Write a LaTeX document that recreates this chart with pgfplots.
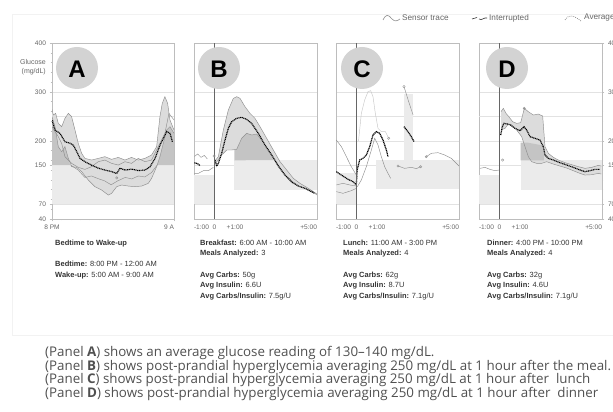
\documentclass[border=0pt]{standalone}
\usepackage{fontspec}
\setmainfont{Liberation Sans}
\newfontfamily\capfont{Open Sans}
\usepackage{pgfplots}
\pgfplotsset{compat=1.18}

\definecolor{boxlight}{HTML}{EBEBEB}
\definecolor{band}{HTML}{DCDCDC}
\definecolor{darkfill}{HTML}{C4C4C4}
\definecolor{trace}{HTML}{8E8E8E}
\definecolor{frame}{HTML}{BDBDBD}
\definecolor{gridc}{HTML}{E2E2E2}
\definecolor{lbl}{HTML}{666666}
\definecolor{txt}{HTML}{333333}
\definecolor{circ}{HTML}{D3D3D3}
\definecolor{zero}{HTML}{666666}
\definecolor{captxt}{HTML}{505050}

\newcommand{\pf}{\fontsize{7.5}{8}\selectfont}

\pgfplotsset{
  panel/.style={
    scale only axis, height=176pt, anchor=south west,
    ymin=40, ymax=400,
    axis line style={draw=frame, line width=0.5pt},
    ymajorgrids, grid style={draw=gridc, line width=0.4pt},
    tick style={draw=frame, line width=0.4pt},
    major tick length=2.5pt, minor tick length=1.5pt,
    tick align=outside,
    ticklabel style={font=\fontsize{6.6}{7}\selectfont, text=lbl},
    xtick pos=bottom,
  },
  meal/.style={panel, width=123pt, xmin=-1, xmax=5,
    xtick={-1,0,1,5},
    xticklabels={{\makebox[0pt][l]{-1:00}},0,{+1:00},{\makebox[0pt][r]{+5:00}}},
    xtick style={draw=none},
  },
  nolab/.style={ytick={40,70,150,200,250,300,400}, yticklabels={,,,,,,},
    ytick style={draw=none}, ytick pos=left},
  tr/.style={draw=trace, line width=0.45pt, mark=none},
  avg/.style={draw=gray!60, line width=1.15pt, mark=none,
    postaction={draw=black, line width=1.15pt, dash pattern=on 0.9pt off 0.8pt}},
  box/.style={fill=boxlight, draw=none, mark=none},
  dark/.style={fill=darkfill, draw=none, mark=none},
  bandfill/.style={fill=band, draw=none, mark=none},
  zline/.style={draw=zero, line width=0.6pt, mark=none},
  omk/.style={only marks, mark=o, mark size=1.2pt, mark options={draw=trace, fill=white, line width=0.4pt}},
}

\begin{document}
\begin{tikzpicture}
\useasboundingbox (0pt,0pt) rectangle (613pt,412pt);
\draw[draw=gray!10, line width=0.5pt] (12pt,77pt) rectangle (640pt,398pt);

% ---------- Panel A: bedtime to wake-up ----------
\begin{axis}[panel, at={(52pt,193pt)}, width=122pt, xmin=0, xmax=13,
  xtick={0,13}, xticklabels={8 PM,{\makebox[0pt][r]{9 A}}},
  minor xtick={1,2,...,12},
  ytick={40,70,150,200,300,400}, yticklabels={40,70,150,200,300,400},
  minor ytick={60,80,...,380}, ytick pos=left,
  extra y ticks={250}, extra y tick labels={}, extra y tick style={major tick length=0pt},
]
\addplot[box] coordinates {(0,70) (13,70) (13,150) (0,150)};
% envelope between highest and lowest night traces
\addplot[bandfill] coordinates {
 (0,264.3) (0.14,252.7) (0.39,256.1) (0.67,235.6) (1.03,228.8) (1.38,245.9)
 (1.74,256.1) (2.09,249.3) (2.45,222) (2.80,194.7) (3.16,174.3) (3.51,164)
 (4.22,160.6) (4.93,164) (5.64,167.5) (6.35,162) (7.06,166) (7.77,160.6)
 (8.48,166) (9.19,160.6) (9.90,164) (10.61,170.9) (11.15,187.9) (11.5,249.3)
 (11.75,276.6) (12.03,290.2) (12.32,276.6) (12.57,242.5) (13,222)
 (13,215.2) (12.57,228.8) (12.21,222) (11.86,194.7) (11.5,167.4) (11.15,147)
 (10.61,123.1) (10.26,112.9) (9.55,107.4) (8.84,106.1) (8.13,107.4) (7.42,109.5)
 (6.89,106.1) (6.35,92.4) (6.0,89) (5.29,99.2) (4.58,106.1) (3.87,119.7)
 (3.16,136.8) (2.63,145.6) (2.09,147) (1.74,164) (1.38,187.9) (1.03,177.7)
 (0.67,187.9) (0.32,228.8) (0,249.3)};
\addplot[dark] coordinates {(0,150) (0,249.3) (0.32,228.8) (0.67,187.9) (1.03,177.7)
 (1.38,187.9) (1.74,164) (1.95,150)};
\addplot[dark] coordinates {(11.2,150) (11.5,167.4) (11.86,194.7) (12.21,222)
 (12.57,228.8) (13,215.2) (13,150)};
\addplot[tr] coordinates {
 (0,264.3) (0.14,252.7) (0.39,256.1) (0.67,235.6) (1.03,228.8) (1.38,245.9)
 (1.74,256.1) (2.09,249.3) (2.45,222) (2.80,194.7) (3.16,174.3) (3.51,164)
 (4.22,160.6) (4.93,164) (5.64,167.5) (6.35,162) (7.06,166) (7.77,160.6)
 (8.48,166) (9.19,160.6) (9.90,164) (10.61,170.9) (11.15,187.9) (11.5,249.3)
 (11.75,276.6) (12.03,290.2) (12.32,276.6) (12.57,242.5) (13,222)};
\addplot[tr] coordinates {
 (0,249.3) (0.32,228.8) (0.67,187.9) (1.03,177.7) (1.38,187.9) (1.74,164)
 (2.09,147) (2.63,145.6) (3.16,136.8) (3.87,119.7) (4.58,106.1) (5.29,99.2)
 (6.0,89) (6.35,92.4) (6.89,106.1) (7.42,109.5) (8.13,107.4) (8.84,106.1)
 (9.55,107.4) (10.26,112.9) (10.61,123.1) (11.15,147) (11.5,167.4)
 (11.86,194.7) (12.21,222) (12.57,228.8) (13,215.2)};
\addplot[tr] coordinates {
 (0,228.8) (0.67,208.4) (1.03,194.7) (1.38,167.4) (2.09,153.8) (2.80,145.6)
 (3.51,141.5) (4.22,147) (4.93,157.2) (5.64,160.6) (6.35,153.8) (7.06,150.4)
 (7.77,157.2) (8.48,153.8) (9.19,164) (9.90,157.2) (10.61,160.6) (11.32,187.9)
 (12.03,215.2) (12.46,256.1) (13,242.5)};
\addplot[tr] coordinates {
 (2.0,150) (2.8,140) (3.5,125) (4.2,128) (5.0,122) (5.6,118) (6.3,110)
 (7.0,118) (7.8,125) (8.5,122) (9.2,128) (9.9,126) (10.6,135) (11.2,150)};
\addplot[omk] coordinates {(6.9,124)};
\addplot[avg] coordinates {
 (0,242) (0.32,222) (0.85,215) (1.39,198) (1.92,195) (2.27,191) (2.63,178)
 (2.98,164) (3.52,157) (4.23,150) (4.94,144) (5.65,140) (6.36,137) (6.89,133)
 (7.25,144) (7.78,140) (8.49,142) (9.2,139) (9.91,140) (10.45,147) (10.98,164)
 (11.51,191) (11.87,205) (12.22,219) (12.58,215) (12.83,198)};
\end{axis}

% ---------- Panel B: breakfast ----------
\begin{axis}[meal, nolab, at={(194pt,193pt)}]
\addplot[box] coordinates {(-1,70) (0,70) (0,130) (-1,130)};
\addplot[box] coordinates {(0.97,100) (5,100) (5,160) (0.97,160)};
\addplot[bandfill] coordinates {
 (0.057,160.6) (0.187,167.4) (0.431,222) (0.675,262.9) (0.919,286.8) (1.081,290.2)
 (1.244,286.8) (1.488,269.7) (1.732,256.1) (1.975,245.9) (2.22,228.8) (2.545,205)
 (2.87,181.1) (3.195,157.2) (3.52,140.2) (3.846,123.1) (4.17,112.9) (4.577,102.7) (5.0,91)
 (5.0,89) (4.74,97.9) (4.415,102.7) (4.09,107.4) (3.764,114.2) (3.52,125.2) (3.276,140.2)
 (2.951,160.6) (2.626,181.1) (2.301,201.5) (2.057,213.8) (1.813,211.8) (1.569,215.2)
 (1.325,205) (1.081,182.4) (0.837,181.1) (0.594,181.1) (0.35,170.9) (0.057,153.8)};
\addplot[dark] coordinates {(0.97,160) (0.97,181.6) (1.081,182.4) (1.325,205) (1.569,215.2)
 (1.813,211.8) (2.057,213.8) (2.301,201.5) (2.626,181.1) (2.951,160.6)};
\addplot[tr] coordinates {
 (0.057,160.6) (0.187,167.4) (0.431,222) (0.675,262.9) (0.919,286.8) (1.081,290.2)
 (1.244,286.8) (1.488,269.7) (1.732,256.1) (1.975,245.9) (2.22,228.8) (2.545,205)
 (2.87,181.1) (3.195,157.2) (3.52,140.2) (3.846,123.1) (4.17,112.9) (4.577,102.7) (5.0,91)};
\addplot[tr] coordinates {
 (0.057,153.8) (0.35,170.9) (0.594,181.1) (0.837,181.1) (1.081,182.4) (1.325,205)
 (1.569,215.2) (1.813,211.8) (2.057,213.8) (2.301,201.5) (2.626,181.1) (2.951,160.6)
 (3.276,140.2) (3.52,125.2) (3.764,114.2) (4.09,107.4) (4.415,102.7) (4.74,97.9) (5.0,89)};
\addplot[tr] coordinates {(-0.98,168) (-0.82,173) (-0.66,166) (-0.5,170) (-0.35,163)};
\addplot[tr] coordinates {(-0.984,133.3) (-0.79,133.3) (-0.545,138.8) (-0.3,138.8) (-0.057,145.6)};
\addplot[omk] coordinates {(-0.02,169)};
\addplot[avg] coordinates {(-0.98,155) (-0.82,153) (-0.7,149)};
\addplot[avg] coordinates {
 (0.024,160.6) (0.106,148.3) (0.187,153.8) (0.35,174.3) (0.512,201.5) (0.675,225.4)
 (0.837,239) (1.08,245.9) (1.325,248) (1.569,243.8) (1.813,235.6) (2.138,215.2)
 (2.463,191.3) (2.789,170.9) (3.114,148.3) (3.439,129.9) (3.764,116.3) (4.09,107.4)
 (4.415,102.7) (4.74,95.8) (4.9,92.4)};
\addplot[zline] coordinates {(0,40) (0,400)};
\end{axis}

% ---------- Panel C: lunch ----------
\begin{axis}[meal, nolab, at={(336pt,193pt)}]
\addplot[box] coordinates {(-1,70) (0,70) (0,135) (-1,135)};
\addplot[box] coordinates {(0.97,101) (5,101) (5,160) (0.97,160)};
\addplot[box] coordinates {(2.32,160) (2.78,160) (2.78,295) (2.32,295)};
\addplot[tr] coordinates {(-0.984,201.6) (-0.74,188) (-0.496,167.5) (-0.252,147) (-0.008,130)};
\addplot[tr] coordinates {(-0.984,109.6) (-0.66,113) (-0.33,109.6) (-0.008,107.5)};
\addplot[tr] coordinates {(-0.984,96) (-0.66,92.5) (-0.25,98) (-0.008,102.7)};
\addplot[tr, draw=gray!45] coordinates {(0.1,200) (0.236,256) (0.399,283.4) (0.561,300.4) (0.691,302.5)
 (0.805,290.2) (0.919,256) (1.049,225.4) (1.212,218.6) (1.407,218.6) (1.569,205)};
\addplot[omk] coordinates {(1.569,205)};
\addplot[tr] coordinates {(0.041,106) (0.236,119.8) (0.48,147) (0.724,181) (0.886,205)
 (1.049,191.4) (1.212,167.5) (1.374,147) (1.537,133.4) (1.667,123.2)};
\addplot[tr] coordinates {(2.317,310.7) (2.545,280) (2.76,252.7)};
\addplot[omk] coordinates {(2.317,310.7)};
\addplot[tr] coordinates {(2.025,148.4) (2.35,143.6) (2.675,145.7) (2.919,143) (3.13,147)};
\addplot[omk] coordinates {(2.025,148.4) (3.13,147)};
\addplot[tr] coordinates {(3.407,167.5) (3.65,174.3) (3.976,175.7) (4.3,171) (4.626,164)
 (4.87,153.9) (5.0,148.4)};
\addplot[omk] coordinates {(3.407,167.5)};
\addplot[avg] coordinates {
 (-0.984,136.8) (-0.74,130) (-0.414,121.2) (-0.17,116.4) (-0.008,109.6) (0.03,140.2)
 (0.155,160.7) (0.317,164.1) (0.48,170.9) (0.643,188) (0.805,211.8) (0.968,218.6)
 (1.13,215.2) (1.293,201.6) (1.456,181.1) (1.537,167.5)};
\addplot[avg] coordinates {(2.317,228.9) (2.512,218.6) (2.675,208.4) (2.805,198.2)};
\addplot[zline] coordinates {(0,40) (0,400)};
\end{axis}

% ---------- Panel D: dinner ----------
\begin{axis}[meal, at={(479pt,193pt)},
  ytick={40,70,150,200,300,400}, yticklabels={40,70,150,200,300,400},
  ytick pos=right, yticklabel pos=right, minor ytick={60,80,...,380},
  extra y ticks={250}, extra y tick labels={}, extra y tick style={major tick length=0pt}]
\addplot[box] coordinates {(-1,70) (0,70) (0,130) (-1,130)};
\addplot[box] coordinates {(1.03,100) (5,100) (5,160) (1.03,160)};
\addplot[bandfill] coordinates {
 (0.073,259.5) (0.187,266.3) (0.317,256.1) (0.48,247.9) (0.642,239) (0.837,235.6)
 (1.032,237) (1.211,266.3) (1.406,259.5) (1.65,252.7) (1.894,254.7) (2.106,250.6)
 (2.22,187.9) (2.382,174.3) (2.626,166.1) (2.87,160.6) (3.195,155.2) (3.52,151.1)
 (3.846,147) (4.17,143.6) (4.496,145.6) (4.82,149.7) (4.97,148.3)
 (4.97,132) (4.82,133.3) (4.496,130.6) (4.17,129.9) (3.927,133.3) (3.6,138.8)
 (3.276,144.3) (2.951,148.3) (2.626,152.4) (2.301,157.2) (2.057,153.8) (1.813,153.8)
 (1.569,157.2) (1.406,167.5) (1.244,187.9) (1.081,208.4) (0.837,222) (0.594,232.2)
 (0.431,234.3) (0.268,225.4) (0.073,222)};
\addplot[dark] coordinates {(1.03,160) (1.03,196) (1.4,196) (2.17,190) (2.17,160)};
\addplot[tr] coordinates {
 (0.073,259.5) (0.187,266.3) (0.317,256.1) (0.48,247.9) (0.642,239) (0.837,235.6)
 (1.032,237) (1.211,266.3) (1.406,259.5) (1.65,252.7) (1.894,254.7) (2.106,250.6)
 (2.22,187.9) (2.382,174.3) (2.626,166.1) (2.87,160.6) (3.195,155.2) (3.52,151.1)
 (3.846,147) (4.17,143.6) (4.496,145.6) (4.82,149.7) (4.97,148.3)};
\addplot[tr] coordinates {
 (0.073,222) (0.268,225.4) (0.431,234.3) (0.594,232.2) (0.837,222) (1.081,208.4)
 (1.244,187.9) (1.406,167.5) (1.569,157.2) (1.813,153.8) (2.057,153.8) (2.301,157.2)
 (2.626,152.4) (2.951,148.3) (3.276,144.3) (3.6,138.8) (3.927,133.3) (4.17,129.9)
 (4.496,130.6) (4.82,133.3) (4.97,132)};
\addplot[omk] coordinates {(1.211,266.3)};
\addplot[tr] coordinates {(-0.951,143.6) (-0.707,145.6) (-0.463,141.5) (-0.22,138.8) (-0.024,140.2)};
\addplot[omk] coordinates {(0.155,160.6)};
\addplot[avg] coordinates {
 (0.057,211.8) (0.138,228.8) (0.22,235.7) (0.382,234.3) (0.545,232.2) (0.756,225.4)
 (1.0,220.6) (1.195,228.8) (1.325,222) (1.488,208.4) (1.732,205) (1.975,201.5)
 (2.138,187.9) (2.22,170.9) (2.382,164) (2.626,160.6) (2.951,155.2) (3.276,150.4)
 (3.6,145.6) (3.927,140.2) (4.17,136.8) (4.415,138.8) (4.659,141.5) (4.9,141.5)};
\addplot[zline] coordinates {(0,40) (0,400)};
\end{axis}

% ---------- panel badges ----------
\foreach \cx/\l in {77/A,219/B,362/C,507/D}{
  \fill[circ] (\cx pt,344pt) circle (21pt);
  \node[font=\fontsize{24}{24}\selectfont\bfseries, text=black] at (\cx pt,343pt) {\l};
}

% ---------- y label ----------
\node[anchor=east, align=right, font=\fontsize{7}{9}\selectfont, text=lbl, inner sep=0pt]
  at (46pt,344.5pt) {Glucose\\(mg/dL)};

% ---------- legend ----------
\draw[draw=trace, line width=0.6pt] (383pt,392pt) .. controls (386pt,398pt) and (388pt,398pt) .. (392pt,393pt)
  .. controls (395pt,390pt) and (397pt,391pt) .. (400pt,393pt);
\node[anchor=west, font=\fontsize{8.2}{9}\selectfont, text=lbl, inner sep=0pt] at (402pt,394pt) {Sensor trace};
\draw[draw=gray!40!black, line width=0.6pt] (472pt,393pt) -- (477pt,394.5pt);
\draw[draw=gray!40!black, line width=0.6pt] (479pt,393pt) .. controls (482pt,391pt) and (484pt,395pt) .. (487pt,394pt);
\node[anchor=west, font=\fontsize{8.2}{9}\selectfont, text=lbl, inner sep=0pt] at (489pt,394pt) {Interrupted};
\draw[draw=gray, line width=0.7pt, dash pattern=on 0.8pt off 1.2pt] (565pt,392pt) .. controls (569pt,398pt) and (573pt,397pt) .. (581pt,391pt);
\node[anchor=west, font=\fontsize{8.2}{9}\selectfont, text=lbl, inner sep=0pt] at (584pt,394pt) {Average};

% ---------- panel notes ----------
\begin{scope}[every node/.style={anchor=base west, inner sep=0pt, font=\pf, text=txt}]
\node at (55pt,166.5pt) {\textbf{Bedtime to Wake-up}};
\node at (55pt,145pt) {\textbf{Bedtime:} 8:00 PM - 12:00 AM};
\node at (55pt,134.5pt) {\textbf{Wake-up:} 5:00 AM - 9:00 AM};

\node at (200pt,166.5pt) {\textbf{Breakfast:} 6:00 AM - 10:00 AM};
\node at (200pt,156pt) {\textbf{Meals Analyzed:} 3};
\node at (200pt,134.5pt) {\textbf{Avg Carbs:} 50g};
\node at (200pt,124pt) {\textbf{Avg Insulin:} 6.6U};
\node at (200pt,113.5pt) {\textbf{Avg Carbs/Insulin:} 7.5g/U};

\node at (343pt,166.5pt) {\textbf{Lunch:} 11:00 AM - 3:00 PM};
\node at (343pt,156pt) {\textbf{Meals Analyzed:} 4};
\node at (343pt,134.5pt) {\textbf{Avg Carbs:} 62g};
\node at (343pt,124pt) {\textbf{Avg Insulin:} 8.7U};
\node at (343pt,113.5pt) {\textbf{Avg Carbs/Insulin:} 7.1g/U};

\node at (487pt,166.5pt) {\textbf{Dinner:} 4:00 PM - 10:00 PM};
\node at (487pt,156pt) {\textbf{Meals Analyzed:} 4};
\node at (487pt,134.5pt) {\textbf{Avg Carbs:} 32g};
\node at (487pt,124pt) {\textbf{Avg Insulin:} 4.6U};
\node at (487pt,113.5pt) {\textbf{Avg Carbs/Insulin:} 7.1g/U};
\end{scope}

% ---------- captions ----------
\begin{scope}[every node/.style={anchor=base west, inner sep=0pt, font=\capfont\fontsize{13.35}{14}\selectfont, text=captxt}]
\node at (45pt,55.5pt) {(Panel \textbf{A}) shows an average glucose reading of 130–140 mg/dL.};
\node at (45pt,41.5pt) {(Panel \textbf{B}) shows post-prandial hyperglycemia averaging 250 mg/dL at 1 hour after the meal.};
\node at (45pt,28.5pt) {(Panel \textbf{C}) shows post-prandial hyperglycemia averaging 250 mg/dL at 1 hour after\ \ lunch};
\node at (45pt,14.5pt) {(Panel \textbf{D}) shows post-prandial hyperglycemia averaging 250 mg/dL at 1 hour after\ \ dinner};
\end{scope}
\end{tikzpicture}
\end{document}
